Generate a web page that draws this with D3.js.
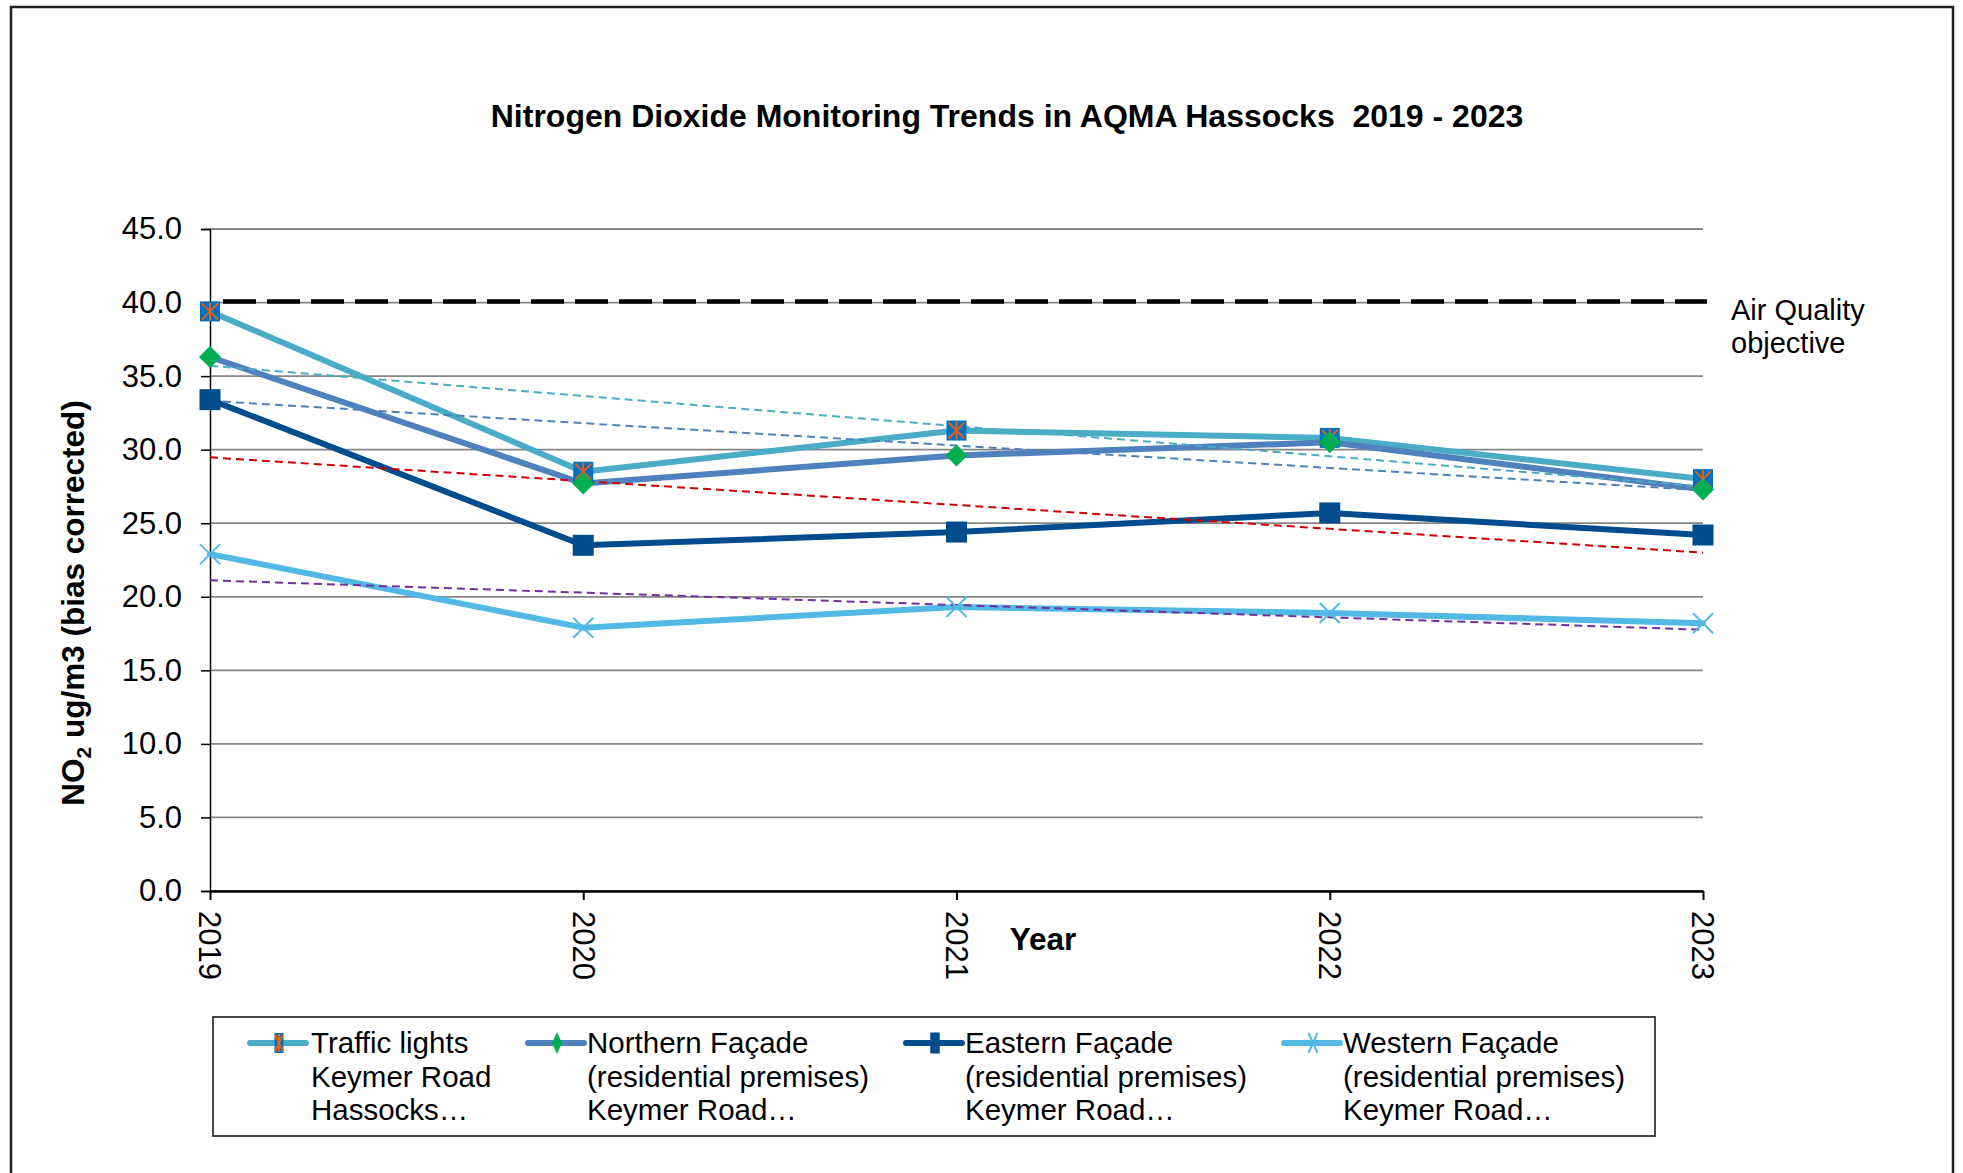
<!DOCTYPE html>
<html>
<head>
<meta charset="utf-8">
<script src="https://cdn.jsdelivr.net/npm/d3@7"></script>
<style>
  body { margin: 0; background: #fff; }
  svg { display: block; font-family: Arial, "Liberation Sans", sans-serif; }
</style>
</head>
<body>
<svg id="svg1" width="1963" height="1173"></svg>
<script>
// data
var years = ['2019', '2020', '2021', '2022', '2023'];
var trafficLights = [39.4, 28.5, 31.3, 30.8, 28.0];
var northernFacade = [36.3, 27.7, 29.6, 30.5, 27.3];
var easternFacade = [33.4, 23.5, 24.4, 25.7, 24.2];
var westernFacade = [22.9, 17.9, 19.3, 18.9, 18.2];
var yTicks = [0, 5, 10, 15, 20, 25, 30, 35, 40, 45];
var objective = 40;

var seriesNames = [
    ['Traffic lights', 'Keymer Road', 'Hassocks\u2026'],
    ['Northern Fa\u00e7ade', '(residential premises)', 'Keymer Road\u2026'],
    ['Eastern Fa\u00e7ade', '(residential premises)', 'Keymer Road\u2026'],
    ['Western Fa\u00e7ade', '(residential premises)', 'Keymer Road\u2026']
];

var series = [
    {values: trafficLights, line: '#4BACC6', marker: 'star', fill: '#0070C0', trend: '#4BACC6'},
    {values: northernFacade, line: '#4F81BD', marker: 'diamond', fill: '#00B050', trend: '#4F81BD'},
    {values: easternFacade, line: '#004C8C', marker: 'square', fill: '#004C8C', trend: '#D00000'},
    {values: westernFacade, line: '#52B9E5', marker: 'x', fill: '#52B9E5', trend: '#7030A0'}
];

var svg = d3.select('svg');

// outer chart border
svg.append('rect')
    .attr('x', 11).attr('y', 7)
    .attr('width', 1942).attr('height', 1200)
    .attr('fill', 'none')
    .attr('stroke', '#222')
    .attr('stroke-width', 2.5);

var x = d3.scalePoint().domain(years).range([210, 1703]);
var y = d3.scaleLinear().domain([0, 45]).range([891, 229]);

// gridlines
svg.append('g')
    .selectAll('line')
    .data(yTicks)
    .enter()
    .append('line')
    .attr('x1', x.range()[0]).attr('x2', x.range()[1])
    .attr('y1', function(d){ return y(d); })
    .attr('y2', function(d){ return y(d); })
    .attr('stroke', '#868686')
    .attr('stroke-width', 1.8);

// y axis
var yAxis = svg.append('g')
    .attr('transform', 'translate(' + x.range()[0] + ',0)')
    .call(d3.axisLeft(y).tickValues(yTicks).tickFormat(d3.format('.1f')).tickSize(9).tickPadding(19));
yAxis.select('.domain').attr('stroke', '#000').attr('stroke-width', 1.5);
yAxis.selectAll('.tick line').attr('stroke', '#000').attr('stroke-width', 1.5);
yAxis.selectAll('text').attr('font-size', 31).attr('fill', '#000')
    .attr('font-family', 'Arial, "Liberation Sans", sans-serif');

// x axis
var xAxis = svg.append('g')
    .attr('transform', 'translate(0,' + y(0) + ')')
    .call(d3.axisBottom(x).tickSize(9).tickSizeOuter(0));
xAxis.select('.domain').attr('stroke', '#000').attr('stroke-width', 2.5);
xAxis.selectAll('.tick line').attr('stroke', '#000').attr('stroke-width', 2);
xAxis.selectAll('text')
    .attr('font-size', 31).attr('fill', '#000')
    .attr('font-family', 'Arial, "Liberation Sans", sans-serif')
    .attr('transform', 'rotate(90)')
    .attr('text-anchor', 'start')
    .attr('x', 20).attr('y', 0).attr('dy', '0.36em');

// air quality objective
svg.append('line')
    .attr('x1', x.range()[0] + 13).attr('x2', x.range()[1] + 4)
    .attr('y1', y(objective) - 1).attr('y2', y(objective) - 1)
    .attr('stroke', '#000')
    .attr('stroke-width', 4.5)
    .attr('stroke-dasharray', '33,11');

var aq = svg.append('text')
    .attr('x', 1731).attr('y', 320)
    .attr('font-size', 29).attr('fill', '#000');
aq.append('tspan').attr('x', 1731).text('Air Quality');
aq.append('tspan').attr('x', 1731).attr('dy', 33).text('objective');

// series lines
var line = d3.line()
    .x(function(d, i){ return x(years[i]); })
    .y(function(d){ return y(d); });

svg.append('g')
    .selectAll('path')
    .data(series)
    .enter()
    .append('path')
    .attr('d', function(s){ return line(s.values); })
    .attr('fill', 'none')
    .attr('stroke', function(s){ return s.line; })
    .attr('stroke-width', 6)
    .attr('stroke-linejoin', 'round')
    .attr('stroke-linecap', 'round');

// linear trendlines (least squares, like the spreadsheet)
function trend(vals) {
    var n = vals.length;
    var mx = (n - 1) / 2;
    var my = d3.mean(vals);
    var num = d3.sum(vals, function(v, i){ return (i - mx) * (v - my); });
    var den = d3.sum(vals, function(v, i){ return (i - mx) * (i - mx); });
    var slope = num / den;
    return [my - slope * mx, my + slope * (n - 1 - mx)];
}

svg.append('g')
    .selectAll('line')
    .data(series)
    .enter()
    .append('line')
    .attr('x1', x(years[0]))
    .attr('x2', x(years[years.length - 1]))
    .attr('y1', function(s){ return y(trend(s.values)[0]); })
    .attr('y2', function(s){ return y(trend(s.values)[1]); })
    .attr('stroke', function(s){ return s.trend; })
    .attr('stroke-width', 2)
    .attr('stroke-dasharray', '8,5');

// markers
function drawMarker(g, s, sx) {
    // sx squeezes the marker horizontally (used in the legend)
    if (s.marker === 'star') {
        g.append('rect').attr('x', -10 * sx).attr('y', -10).attr('width', 20 * sx).attr('height', 20)
            .attr('fill', s.fill);
        g.append('path')
            .attr('d', 'M' + (-8 * sx) + ',-8L' + (8 * sx) + ',8M' + (8 * sx) + ',-8L' + (-8 * sx) + ',8M0,-9L0,9')
            .attr('stroke', '#E0621A').attr('stroke-width', 2).attr('fill', 'none');
    } else if (s.marker === 'diamond') {
        g.append('path')
            .attr('d', 'M0,-11L' + (11 * sx) + ',0L0,11L' + (-11 * sx) + ',0Z')
            .attr('fill', s.fill);
    } else if (s.marker === 'square') {
        g.append('rect').attr('x', -10.5 * sx).attr('y', -10.5).attr('width', 21 * sx).attr('height', 21)
            .attr('fill', s.fill);
    } else {
        g.append('path')
            .attr('d', 'M' + (-10 * sx) + ',-10L' + (10 * sx) + ',10M' + (10 * sx) + ',-10L' + (-10 * sx) + ',10')
            .attr('stroke', s.fill).attr('stroke-width', 2).attr('fill', 'none');
    }
}

series.forEach(function(s){
    s.values.forEach(function(v, i){
        var g = svg.append('g').attr('transform', 'translate(' + x(years[i]) + ',' + y(v) + ')');
        drawMarker(g, s, 1);
    });
});

// title
svg.append('text')
    .attr('x', 1007).attr('y', 127)
    .attr('text-anchor', 'middle')
    .attr('font-size', 32).attr('font-weight', 'bold')
    .attr('xml:space', 'preserve')
    .text('Nitrogen Dioxide Monitoring Trends in AQMA Hassocks  2019 - 2023');

// y axis title
var yt = svg.append('text')
    .attr('transform', 'translate(84,603) rotate(-90)')
    .attr('text-anchor', 'middle')
    .attr('font-size', 31.5).attr('font-weight', 'bold');
yt.append('tspan').text('NO');
yt.append('tspan').attr('font-size', 21).attr('dy', 7).text('2');
yt.append('tspan').attr('dy', -7).text(' ug/m3 (bias corrected)');

// x axis title
svg.append('text')
    .attr('x', 1043).attr('y', 950)
    .attr('text-anchor', 'middle')
    .attr('font-size', 31.5).attr('font-weight', 'bold')
    .text('Year');

// legend
svg.append('rect')
    .attr('x', 213).attr('y', 1017)
    .attr('width', 1442).attr('height', 119)
    .attr('fill', '#fff')
    .attr('stroke', '#333')
    .attr('stroke-width', 1.8);

var legendX = [250, 528, 906, 1284];
var textOffset = [61, 59, 59, 59];

series.forEach(function(s, k){
    var lg = svg.append('g').attr('transform', 'translate(' + legendX[k] + ',1043)');
    lg.append('line')
        .attr('x1', 0).attr('x2', 56)
        .attr('stroke', s.line).attr('stroke-width', 6)
        .attr('stroke-linecap', 'round');
    drawMarker(lg.append('g').attr('transform', 'translate(29,0)'), s, 0.45);
    var t = lg.append('text')
        .attr('x', textOffset[k]).attr('y', 10)
        .attr('font-size', 29.5).attr('fill', '#000');
    seriesNames[k].forEach(function(str, j){
        t.append('tspan').attr('x', textOffset[k]).attr('dy', j === 0 ? 0 : 33.5).text(str);
    });
});
</script>
</body>
</html>
